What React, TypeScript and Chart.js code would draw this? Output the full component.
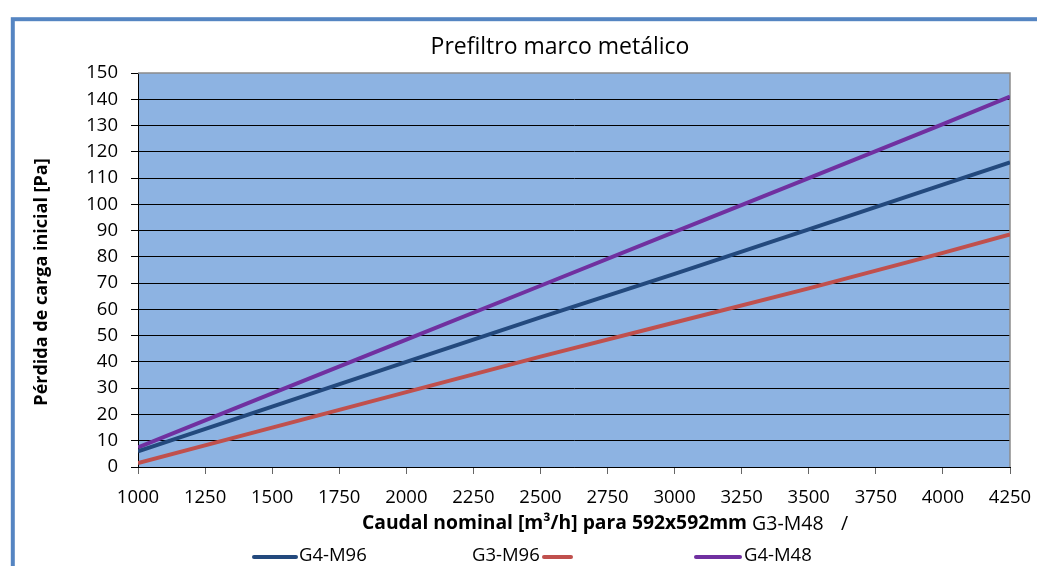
import React, { useEffect, useRef } from "react";
import { Chart, registerables } from "chart.js";

Chart.register(...registerables);

// ---- data ----
const caudal = [1000, 1500, 2000, 2500, 3000, 3500, 4000, 4250];
const g4m96 = [6, 23, 40, 57, 73.5, 90.5, 107.5, 116];
const g3m96 = [1.5, 15, 28.5, 42, 55, 68, 81.5, 88.5];
const g4m48 = [7.5, 28, 48.5, 69, 89.5, 110, 130.5, 141];
const xTickValues = [1000, 1250, 1500, 1750, 2000, 2250, 2500, 2750, 3000, 3250, 3500, 3750, 4000, 4250];
const seriesNames = ["G4-M96", "G3-M96", "G4-M48"];
const seriesColors = ["#23497D", "#C0504D", "#7030A0"];
const chartTitle = "Prefiltro marco metálico";
const yTitle = "Pérdida de carga inicial [Pa]";
const xTitleBold = "Caudal nominal [m³/h] para 592x592mm";
const xTitleRest = " G3-M48";
const xTitleSlash = "/";

const FONT = "'Open Sans', 'Noto Sans', sans-serif";

const decorPlugin = {
  id: "decor",
  beforeDraw(chart: any) {
    const { ctx, chartArea } = chart;
    ctx.save();
    ctx.strokeStyle = "#5585C2";
    ctx.lineWidth = 4;
    ctx.strokeRect(12.8, 19.2, 1200, 700);
    ctx.fillStyle = "#8DB3E2";
    ctx.fillRect(chartArea.left, chartArea.top, chartArea.right - chartArea.left, chartArea.bottom - chartArea.top);
    ctx.restore();
  },
  beforeDatasetsDraw(chart: any) {
    const { ctx, chartArea } = chart;
    ctx.save();
    ctx.strokeStyle = "#8C8C8C";
    ctx.lineWidth = 1.5;
    ctx.beginPath();
    ctx.moveTo(chartArea.left, chartArea.top);
    ctx.lineTo(chartArea.right, chartArea.top);
    ctx.lineTo(chartArea.right, chartArea.bottom);
    ctx.stroke();
    ctx.restore();
  },
  afterDraw(chart: any) {
    const { ctx } = chart;
    ctx.save();
    ctx.fillStyle = "#000";
    ctx.textBaseline = "middle";
    ctx.font = `23px ${FONT}`;
    ctx.textAlign = "center";
    ctx.fillText(chartTitle, 560, 47);
    ctx.save();
    ctx.translate(42, 282);
    ctx.rotate(-Math.PI / 2);
    ctx.font = `bold 18px ${FONT}`;
    ctx.fillText(yTitle, 0, 0);
    ctx.restore();
    ctx.textAlign = "left";
    ctx.font = `bold 19.3px ${FONT}`;
    const bw = ctx.measureText(xTitleBold).width;
    ctx.fillText(xTitleBold, 362, 524);
    ctx.font = `19.5px ${FONT}`;
    ctx.fillText(xTitleRest, 362 + bw, 524);
    ctx.fillText(xTitleSlash, 841, 524);
    ctx.font = `18.5px ${FONT}`;
    ctx.lineWidth = 4;
    ctx.lineCap = "round";
    const ly = 556;
    ctx.strokeStyle = seriesColors[0];
    ctx.beginPath(); ctx.moveTo(254, ly + 1); ctx.lineTo(296, ly + 1); ctx.stroke();
    ctx.fillText(seriesNames[0], 299, ly);
    ctx.fillText(seriesNames[1], 472, ly);
    ctx.strokeStyle = seriesColors[1];
    ctx.beginPath(); ctx.moveTo(544, ly + 1); ctx.lineTo(571, ly + 1); ctx.stroke();
    ctx.strokeStyle = seriesColors[2];
    ctx.beginPath(); ctx.moveTo(696, ly + 1); ctx.lineTo(740, ly + 1); ctx.stroke();
    ctx.fillText(seriesNames[2], 744, ly);
    ctx.restore();
  },
};

export default function App() {
  const ref = useRef<HTMLCanvasElement>(null);
  useEffect(() => {
    const canvas = ref.current!;
    const mk = (vals: number[]) => caudal.map((x, i) => ({ x, y: vals[i] }));
    const chart = new Chart(canvas, {
      type: "line",
      data: {
        datasets: [
          { label: seriesNames[0], data: mk(g4m96), borderColor: seriesColors[0], borderWidth: 4, pointRadius: 0, fill: false, tension: 0 },
          { label: seriesNames[1], data: mk(g3m96), borderColor: seriesColors[1], borderWidth: 4, pointRadius: 0, fill: false, tension: 0 },
          { label: seriesNames[2], data: mk(g4m48), borderColor: seriesColors[2], borderWidth: 4, pointRadius: 0, fill: false, tension: 0 },
        ],
      },
      options: {
        responsive: false,
        animation: false,
        devicePixelRatio: 1,
        layout: { padding: { top: 73, left: 0, right: 27, bottom: 0 } },
        plugins: { legend: { display: false }, title: { display: false }, tooltip: { enabled: false } },
        scales: {
          x: {
            type: "linear",
            min: 1000,
            max: 4250,
            afterFit: (s: any) => { s.height = 99; s.paddingLeft = 0; s.paddingRight = 0; },
            afterBuildTicks: (s: any) => {
              s.ticks = xTickValues.map((v) => ({ value: v }));
            },
            ticks: {
              color: "#000",
              font: { family: FONT, size: 18.5 },
              padding: 13,
              maxRotation: 0,
              autoSkip: false,
              callback: (v: any) => String(v),
            },
            grid: { drawOnChartArea: false, drawTicks: true, tickLength: 7, color: "#666" },
            border: { color: "#000", width: 1 },
          },
          y: {
            min: 0,
            max: 150,
            afterFit: (s: any) => { s.width = 138; s.paddingTop = 0; s.paddingBottom = 0; },
            ticks: { stepSize: 10, color: "#000", font: { family: FONT, size: 18.5 }, padding: 13, callback: (v: any) => String(v) },
            grid: {
              color: (c: any) => (c.tick && c.tick.value === 150 ? "rgba(0,0,0,0)" : "#000"),
              tickColor: "#000",
              tickLength: 7,
              lineWidth: 1,
            },
            border: { color: "#000", width: 1 },
          },
        },
      },
      plugins: [decorPlugin],
    } as any);
    return () => chart.destroy();
  }, []);
  return (
    <div style={{ position: "fixed", left: 0, top: 0, width: 1037, height: 566 }}>
      <canvas ref={ref} width={1037} height={566} style={{ display: "block" }} />
    </div>
  );
}
